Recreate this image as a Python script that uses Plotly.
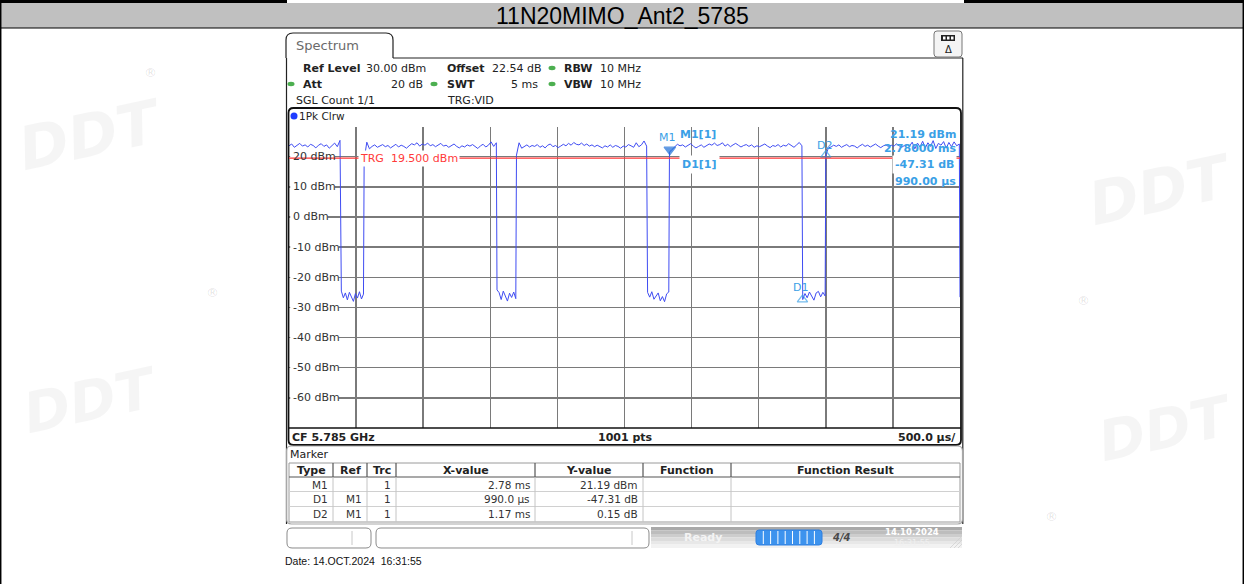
import numpy as np
import plotly.graph_objects as go

W, H = 1244, 584

# ---------------- data ----------------
TITLE = "11N20MIMO_Ant2_5785"
SWEEP_MS = 5.0
Y_TOP_DBM = 30.0
Y_BOTTOM_DBM = -70.0
Y_TICK_VALUES = [20, 10, 0, -10, -20, -30, -40, -50, -60]
TRIGGER_DBM = 19.5

# trace pieces (ms) and the dBm readings inside each piece
piece_start_ms = [0.000, 0.390, 0.560, 1.550, 1.695, 2.672, 2.835, 3.828, 4.000, 5.000]
piece_end_ms = [0.380, 0.555, 1.545, 1.690, 2.665, 2.830, 3.822, 3.995, 4.995, 5.000]
burst1_dbm = [23.6, 24.2, 23.1, 23.8, 24.4, 23.5, 23.9, 23.2, 24.1, 23.7, 22.9, 23.8, 24.3, 23.4,
              23.9, 22.8, 23.6, 24.5, 23.3, 25.4]
gap1_dbm = [-24.6, -26.8, -25.2, -27.5, -25.0, -26.3, -28.0, -25.4, -26.9, -24.8, -27.2, -25.6]
burst2_dbm = [19.0, 24.8, 22.6, 23.4, 23.9, 23.1, 23.6, 24.0, 23.3, 23.7, 22.9, 23.5, 24.1, 23.2,
              23.8, 23.4, 22.8, 23.6, 24.3, 23.9, 24.6, 23.5, 24.2, 23.8, 24.5, 23.6, 24.0, 23.3,
              23.9, 24.4, 23.5, 23.8, 23.1, 23.7, 24.2, 23.4, 22.9, 23.6, 23.2, 23.9, 23.5, 24.0,
              23.3, 22.7, 23.6, 24.1, 23.2, 23.8, 24.9, 23.4, 24.6]
gap2_dbm = [-24.2, -25.1, -27.4, -24.6, -26.2, -27.9, -25.3, -26.7, -24.9, -27.1]
burst3_dbm = [20.5, 24.6, 22.8, 23.5, 23.9, 23.2, 23.7, 23.4, 24.0, 23.1, 23.6, 22.9, 23.8, 24.2,
              23.3, 23.7, 23.0, 23.5, 24.1, 23.6, 24.4, 23.8, 24.7, 24.1, 23.9, 24.5, 23.7, 24.2,
              23.5, 23.9, 23.3, 23.8, 23.4, 22.9, 23.6, 23.2, 23.9, 23.1, 23.7, 23.4, 22.8, 23.5,
              23.2, 24.0, 23.6, 23.1, 24.6, 23.3, 23.9, 25.2, 23.5]
gap3_dbm = [-25.0, -26.6, -24.8, -27.3, -26.0, -25.2, -27.8, -26.4, -28.1, -25.5, -24.9]
burst4_dbm = [21.5, 22.4, 23.4, 24.1, 23.6, 23.9, 23.2, 23.8, 24.3, 23.5, 22.9, 23.4, 23.9, 23.1,
              23.6, 24.2, 23.8, 24.5, 23.7, 24.0, 24.6, 23.5, 24.1, 23.3, 23.9, 24.4, 23.8, 23.2,
              23.7, 24.0, 23.4, 23.9, 23.1, 23.6, 23.3, 23.8, 24.2, 23.5, 23.0, 23.7, 23.4, 24.0,
              23.2, 23.8, 23.5, 24.3, 23.6, 23.1, 23.9, 24.7, 23.6]
gap4_dbm = [-27.4, -25.4, -26.8, -24.9, -26.1, -27.6, -25.2, -24.7, -26.5, -25.0, -26.2]
burst5_dbm = [20.5, 22.9, 23.2, 23.8, 23.4, 23.9, 23.1, 23.6, 24.0, 23.3, 23.7, 23.5, 22.9, 23.6,
              24.1, 23.4, 23.8, 23.2, 23.7, 24.2, 23.5, 23.0, 23.6, 23.9, 23.3, 23.8, 23.4, 24.3,
              23.6, 23.1, 23.7, 24.0, 23.5, 24.8, 22.6, 24.5, 23.2, 25.1, 22.9, 24.6, 23.4, 25.3,
              22.7, 24.4, 23.8, 25.0, 22.8, 24.7, 23.3, 24.9, 23.6, 24.2]
tail_dbm = [-26.6]

# markers as drawn on screen
marker_names = ["M1", "D1", "D2"]
marker_ms = [2.838, 3.826, 4.000]
marker_dbm = [22.3, -27.4, 20.5]

# marker table
table_headers = ["Type", "Ref", "Trc", "X-value", "Y-value", "Function", "Function Result"]
table_type = ["M1", "D1", "D2"]
table_ref = ["", "M1", "M1"]
table_trc = ["1", "1", "1"]
table_x = ["2.78 ms", "990.0 µs", "1.17 ms"]
table_y = ["21.19 dBm", "-47.31 dB", "0.15 dB"]

# ---------------- helpers ----------------
def X(p):
    return p / W


def Y(p):
    return 1 - p / H


shapes = []
ann = []
FONT = "DejaVu Sans"


def rect(x0, y0, x1, y1, fill=None, line=None, lw=1, layer="below"):
    shapes.append(dict(type="rect", xref="paper", yref="paper", x0=X(x0), x1=X(x1), y0=Y(y1), y1=Y(y0),
                       fillcolor=fill or "rgba(0,0,0,0)", line=dict(color=line or "rgba(0,0,0,0)", width=lw if line else 0),
                       layer=layer))


def line(x0, y0, x1, y1, color="#000", lw=1, layer="above"):
    shapes.append(dict(type="line", xref="paper", yref="paper", x0=X(x0), x1=X(x1), y0=Y(y0), y1=Y(y1),
                       line=dict(color=color, width=lw), layer=layer))


def rrect(x0, y0, x1, y1, r, color="#000", lw=1, fill=None, layer="above", top_only=False):
    def P(x, y):
        return f"{X(x):.6f},{Y(y):.6f}"
    if top_only:
        d = (f"M{P(x0, y1)} L{P(x0, y0 + r)} Q{P(x0, y0)} {P(x0 + r, y0)} L{P(x1 - r, y0)} "
             f"Q{P(x1, y0)} {P(x1, y0 + r)} L{P(x1, y1)}")
    else:
        d = (f"M{P(x0 + r, y0)} L{P(x1 - r, y0)} Q{P(x1, y0)} {P(x1, y0 + r)} L{P(x1, y1 - r)} "
             f"Q{P(x1, y1)} {P(x1 - r, y1)} L{P(x0 + r, y1)} Q{P(x0, y1)} {P(x0, y1 - r)} "
             f"L{P(x0, y0 + r)} Q{P(x0, y0)} {P(x0 + r, y0)} Z")
    shapes.append(dict(type="path", xref="paper", yref="paper", path=d,
                       line=dict(color=color, width=lw), fillcolor=fill or "rgba(0,0,0,0)", layer=layer))


def text(x, y, s, size=11, color="#222", anchor="left", family=FONT, bold=False, bg=None, pad=0):
    if bold:
        s = f"<b>{s}</b>"
    ann.append(dict(xref="paper", yref="paper", x=X(x), y=Y(y), text=s, showarrow=False,
                    xanchor=anchor, yanchor="middle", font=dict(size=size, color=color, family=family),
                    bgcolor=bg, borderpad=pad))


# ---------------- page frame / title ----------------
rect(0, 3, W, 28, fill="#c0c0c0", layer="below")
rect(0, 0, 287, 3, fill="#000", layer="below")
rect(964, 0, W, 3, fill="#000", layer="below")
line(0, 28, W, 28, "#000", 1.2)
line(0.7, 0, 0.7, H, "#000", 1.5)
line(W - 0.7, 0, W - 0.7, H, "#000", 1.5)
text(622, 16, TITLE, size=23, color="#000", anchor="center", family="Liberation Sans")

# faint watermarks
for (wx, wy, ws) in [(90, 135, 60), (1160, 190, 60), (90, 400, 56), (1165, 428, 56)]:
    ann.append(dict(xref="paper", yref="paper", x=X(wx), y=Y(wy), text="<b><i>DDT</i></b>", showarrow=False,
                    xanchor="center", yanchor="middle",
                    font=dict(size=ws, color="rgba(0,0,0,0.04)", family="DejaVu Sans"), textangle=-12))
for (wx, wy) in [(150, 72), (212, 292), (1051, 516), (1083, 300)]:
    text(wx, wy, "®", size=13, color="rgba(0,0,0,0.12)", anchor="center")

# ---------------- instrument panel ----------------
rrect(286, 33, 393, 58, 7, color="#222", lw=1.2, top_only=True)
line(393, 58, 963, 58, "#222", 1.2)
line(286.5, 58, 286.5, 524, "#222", 1.2)
line(962.8, 58, 962.8, 524, "#222", 1.2)
text(295, 46, "Spectrum", size=13, color="#6a6a6a")
# icon at the top right
rrect(934, 31, 962, 57, 3, color="#777", lw=1, fill="#f4f4f4")
rect(941, 35, 955, 41, fill="#222", layer="above")
for k in range(3):
    rect(943 + 4 * k, 36.5, 945.5 + 4 * k, 39.5, fill="#fff", layer="above")
text(948, 49, "Δ", size=10, color="#222", anchor="center")

GREEN = "#4caf50"


def dot(x, y, c=GREEN, w=7, h=4.5):
    shapes.append(dict(type="circle", xref="paper", yref="paper", x0=X(x - w / 2), x1=X(x + w / 2),
                       y0=Y(y + h / 2), y1=Y(y - h / 2), fillcolor=c, line=dict(width=0), layer="above"))


text(302, 68, "Ref Level", bold=True)
text(365, 68, "30.00 dBm")
text(446, 68, "Offset", bold=True)
text(491, 68, "22.54 dB")
dot(552, 68)
text(563, 68, "RBW", bold=True)
text(599, 68, "10 MHz")
dot(291, 84)
text(302, 84, "Att", bold=True)
text(424, 84, "20 dB", anchor="right")
dot(434, 84)
text(446, 84, "SWT", bold=True)
text(539, 84, "5 ms", anchor="right")
dot(552, 84)
text(563, 84, "VBW", bold=True)
text(599, 84, "10 MHz")
text(295, 100, "SGL Count 1/1")
text(446, 100, "TRG:VID")

# graticule box
rrect(288.5, 108, 961, 445, 5, color="#111", lw=1.8)
dot(294, 116, c="#1f3cff", w=7, h=7)
text(298, 116, "1Pk Clrw", size=10.5)
line(288.5, 428, 961, 428, "#111", 1.5)
text(291, 437, "CF 5.785 GHz", bold=True)
text(625, 437, "1001 pts", bold=True, anchor="center")
text(957, 437, "500.0 µs/", bold=True, anchor="right")

# ---------------- plot ----------------
PL, PR, PT, PB = 289, 960, 126.5, 428
pieces = [burst1_dbm, gap1_dbm, burst2_dbm, gap2_dbm, burst3_dbm, gap3_dbm, burst4_dbm, gap4_dbm,
          burst5_dbm, tail_dbm]
trace_t = np.concatenate([np.linspace(a, b, len(v)) for a, b, v in zip(piece_start_ms, piece_end_ms, pieces)])
trace_dbm = np.concatenate([np.array(v, float) for v in pieces])

TRACE_BLUE = "#3f4cf2"
MK_BLUE = "#3aa0e6"

fig = go.Figure()
fig.add_trace(go.Scatter(x=trace_t, y=trace_dbm, mode="lines", line=dict(color=TRACE_BLUE, width=1),
                         hoverinfo="skip", showlegend=False))
fig.add_trace(go.Scatter(x=marker_ms, y=marker_dbm, mode="markers",
                         marker=dict(symbol=["triangle-down", "triangle-up-open", "triangle-up-open"],
                                     size=[10, 9, 9], color=["#1d6fd8", MK_BLUE, MK_BLUE],
                                     line=dict(width=1.3, color=["#1d6fd8", MK_BLUE, MK_BLUE])),
                         hoverinfo="skip", showlegend=False, cliponaxis=False))

# y tick labels inside the plot (white boxes hide the grid behind them)
CHAR_W = {"-": 0.361, " ": 0.318, "d": 0.635, "B": 0.686, "m": 0.974}
for v in Y_TICK_VALUES:
    lab = f"{v} dBm"
    wpx = sum(CHAR_W.get(ch, 0.636) for ch in lab) * 11
    shapes.append(dict(type="rect", xref="paper", yref="y", x0=X(PL + 1.2), x1=X(PL + 3 + wpx), y0=v - 1.8,
                       y1=v + 1.8, fillcolor="#fff", line=dict(width=0), layer="above"))
    ann.append(dict(xref="paper", yref="y", x=X(PL + 1.5), y=v, text=lab, showarrow=False, xanchor="left",
                    yanchor="middle", font=dict(size=11, color="#333", family=FONT)))

# trigger line (drawn over the label boxes)
shapes.append(dict(type="line", xref="x", yref="y", x0=0, x1=SWEEP_MS, y0=TRIGGER_DBM, y1=TRIGGER_DBM,
                   line=dict(color="#ff3434", width=1.3), layer="above"))
ann.append(dict(xref="paper", yref="y", x=X(358), y=TRIGGER_DBM, text="TRG  19.500 dBm", showarrow=False,
                xanchor="left", yanchor="middle", font=dict(size=11, color="#ff3a3a", family=FONT),
                bgcolor="#fff", borderpad=1))

# marker labels near markers
for name, t, v, dx, dy in zip(marker_names, marker_ms, marker_dbm, [-2, -2, -1], [12, 12, 10]):
    ann.append(dict(xref="x", yref="y", x=t, y=v, text=name, showarrow=False, xshift=dx, yshift=dy,
                    font=dict(size=11, color=MK_BLUE, family=FONT)))

# marker readout
text(679, 134, "M1[1]", color=MK_BLUE, bold=True)
text(957, 134, "21.19 dBm", color=MK_BLUE, bold=True, anchor="right")
text(957, 148, "2.78000 ms", color=MK_BLUE, bold=True, anchor="right")
text(679, 165, "D1[1]", color=MK_BLUE, bold=True, bg="#fff", pad=2)
text(957, 165, "-47.31 dB", color=MK_BLUE, bold=True, anchor="right", bg="#fff", pad=2)
text(957, 181, "990.00 µs", color=MK_BLUE, bold=True, anchor="right")

# ---------------- marker table ----------------
rrect(286.5, 446, 962.5, 524, 5, color="#a8a8a8", lw=1.2)
text(289, 455, "Marker", size=11)
cols = [289, 333, 367, 396, 535, 643, 731, 960]
TT, TH, TB = 463, 477, 522
rect(cols[0], TT, cols[-1], TB, line="#9a9a9a", lw=1, layer="above")
line(cols[0], TH, cols[-1], TH, "#555", 1.2)
for r in (491.5, 506.5):
    line(cols[0], r, cols[-1], r, "#d0d0d0", 1)
for c in cols[1:-1]:
    line(c, TT, c, TH, "#555", 1.2)
    line(c, TH, c, TB, "#c4c4c4", 1)
for i, h in enumerate(table_headers):
    text((cols[i] + cols[i + 1]) / 2, 470, h, bold=True, anchor="center")
row_y = [484.5, 499, 513.5]
for j in range(3):
    vals = [table_type[j], table_ref[j], table_trc[j], table_x[j], table_y[j]]
    for i, s in enumerate(vals):
        if s:
            text(cols[i + 1] - 4, row_y[j], s, size=10.5, color="#333", anchor="right")

# ---------------- status bar ----------------
rrect(287, 528, 371, 548, 5, color="#8a8a8a", lw=1, fill="#fff")
line(352, 531, 352, 545, "#c8c8c8", 1)
rrect(376, 528, 649, 548, 5, color="#8a8a8a", lw=1, fill="#fff")
line(632, 531, 632, 545, "#c8c8c8", 1)
for k, c in enumerate(["#a9a9a9", "#bdbdbd", "#cdcdcd", "#dcdcdc", "#e8e8e8", "#f2f2f2"]):
    rect(651, 527 + 3.5 * k, 962, 527 + 3.5 * (k + 1), fill=c, layer="below")
text(703, 537, "Ready", size=11, color="#f4f4f4", anchor="center", bold=True)
rrect(756, 530, 822, 545, 3, color="#2f7fe0", lw=1, fill="#3d93ee")
for k in range(1, 9):
    line(756 + 7.3 * k, 531, 756 + 7.3 * k, 544, "#ffffff", 1)
text(841, 537, "<i>4/4</i>", size=10, color="#4a4a4a", anchor="center", bold=True)
text(912, 532, "14.10.2024", size=8.5, color="#ffffff", anchor="center", bold=True)
text(912, 543, "16:31:55", size=8, color="#f0f0f0", anchor="center")
for k in range(4):
    line(950 + 4 * k, 548, 962, 536 + 4 * k, "#d0d0d0", 0.8)

text(284, 561, "Date: 14.OCT.2024  16:31:55", size=10.5, color="#111", family="Liberation Sans")

# ---------------- layout ----------------
fig.update_layout(
    width=W, height=H, autosize=False, margin=dict(l=0, r=0, t=0, b=0),
    paper_bgcolor="#fff", plot_bgcolor="#fff", showlegend=False,
    xaxis=dict(domain=[X(PL), X(PR)], range=[0, SWEEP_MS], tickmode="linear", tick0=0, dtick=SWEEP_MS / 10,
               showgrid=True, gridcolor="#7a7a7a", gridwidth=1.5, showticklabels=False, ticks="",
               zeroline=False, showline=False, fixedrange=True),
    yaxis=dict(domain=[Y(PB), Y(PT)], range=[Y_BOTTOM_DBM, Y_TOP_DBM], tickmode="linear", tick0=0, dtick=10,
               showgrid=True, gridcolor="#7a7a7a", gridwidth=1.5, showticklabels=False, ticks="",
               zeroline=False, showline=False, fixedrange=True),
    shapes=shapes, annotations=ann,
)
fig.write_html("out.html", config={"displayModeBar": False, "staticPlot": True},
               post_script="document.body.style.margin='0';document.body.style.overflow='hidden';")
